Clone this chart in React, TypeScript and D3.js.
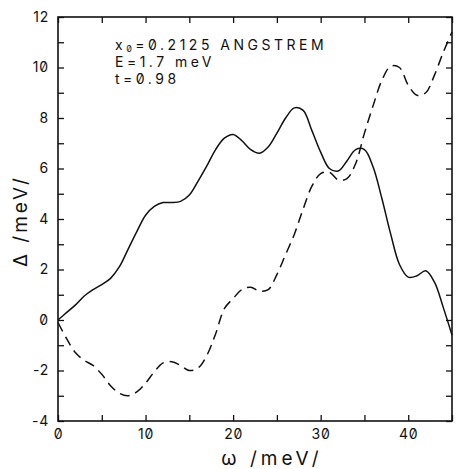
import React, { useRef, useEffect } from "react";
import * as d3 from "d3";

// omega in meV, sampled every 1 meV
const omega = d3.range(0, 46);

// solid curve: Delta (meV)
const deltaSolid = [
  0, 0.3, 0.6, 0.95, 1.2, 1.4, 1.65, 2.1, 2.8, 3.5,
  4.15, 4.5, 4.65, 4.65, 4.7, 4.95, 5.5, 6.1, 6.75, 7.2,
  7.35, 7.1, 6.75, 6.6, 6.85, 7.4, 8.0, 8.4, 8.3, 7.5,
  6.65, 6.0, 5.9, 6.3, 6.75, 6.75, 6.05, 4.8, 3.4, 2.2,
  1.7, 1.75, 1.95, 1.5, 0.5, -0.6,
];

// dashed curve
const deltaDashed = [
  -0.1, -0.75, -1.3, -1.6, -1.8, -2.15, -2.6, -2.9, -3.0, -2.85,
  -2.5, -2.05, -1.7, -1.65, -1.8, -2.0, -1.9, -1.4, -0.55, 0.45,
  0.85, 1.2, 1.3, 1.15, 1.2, 1.8, 2.6, 3.4, 4.4, 5.3,
  5.8, 5.85, 5.55, 5.6, 6.2, 7.4, 8.5, 9.5, 10.05, 10.0,
  9.3, 8.9, 9.0, 9.7, 10.6, 11.4,
];

const xTicks = d3.range(0, 46, 5);
const yTicks = d3.range(-4, 13, 1);
const infoLines = ["E=1.7 meV", "t=0.98"];

const FONT = "Inter, 'DejaVu Sans', sans-serif";

const App = () => {
  const ref = useRef(null);

  useEffect(() => {
    const margin = { top: 17, right: 9, bottom: 48, left: 58 };
    const W = 461, H = 469;
    const width = W - margin.left - margin.right;
    const height = H - margin.top - margin.bottom;

    const svg = d3.select(ref.current);
    svg.selectAll("*").remove();

    const g = svg.append("g").attr("transform", `translate(${margin.left},${margin.top})`);

    const x = d3.scaleLinear().domain([0, 45]).range([0, width]);
    const y = d3.scaleLinear().domain([-4, 12]).range([height, 0]);

    const styleAxis = (sel) => {
      sel.select(".domain").remove();
      sel.selectAll("line").attr("stroke", "#111").attr("stroke-width", 1.3);
      sel.selectAll("text")
        .attr("font-family", FONT)
        .attr("font-size", 14)
        .attr("letter-spacing", 0.8)
        .style("font-feature-settings", '"zero"')
        .attr("fill", "#111");
    };

    g.append("g").attr("transform", `translate(0,${height})`)
      .call(d3.axisBottom(x).tickValues(xTicks).tickSizeInner(-6).tickSizeOuter(0).tickPadding(8)
        .tickFormat(d => (d % 10 === 0 ? d : "")))
      .call(styleAxis);
    g.append("g")
      .call(d3.axisTop(x).tickValues(xTicks).tickSizeInner(-6).tickSizeOuter(0).tickFormat(() => ""))
      .call(styleAxis);
    g.append("g")
      .call(d3.axisLeft(y).tickValues(yTicks).tickSizeInner(-6).tickSizeOuter(0).tickPadding(9)
        .tickFormat(d => (d % 2 === 0 ? d : "")))
      .call(styleAxis);
    g.append("g").attr("transform", `translate(${width},0)`)
      .call(d3.axisRight(y).tickValues(yTicks).tickSizeInner(-6).tickSizeOuter(0).tickFormat(() => ""))
      .call(styleAxis);

    g.append("rect")
      .attr("width", width).attr("height", height)
      .attr("fill", "none").attr("stroke", "#111").attr("stroke-width", 1.6);

    const line = d3.line().x(d => x(d[0])).y(d => y(d[1])).curve(d3.curveCatmullRom);

    g.append("path")
      .datum(omega.map((w, i) => [w, deltaSolid[i]]))
      .attr("fill", "none").attr("stroke", "#111").attr("stroke-width", 1.5)
      .attr("d", line);

    g.append("path")
      .datum(omega.map((w, i) => [w, deltaDashed[i]]))
      .attr("fill", "none").attr("stroke", "#111").attr("stroke-width", 1.5)
      .attr("stroke-dasharray", "10,6")
      .attr("d", line);

    // annotation block
    const info = g.append("text")
      .attr("x", 57).attr("y", 33)
      .attr("font-family", FONT).attr("font-size", 14)
      .attr("letter-spacing", 3.5)
      .style("font-feature-settings", '"zero"')
      .attr("fill", "#111");
    info.append("tspan").text("x");
    info.append("tspan").attr("font-size", 9).attr("dy", 2).text("0");
    info.append("tspan").attr("dy", -2).text("=0.2125 ANGSTREM");
    infoLines.forEach((t, i) => {
      g.append("text")
        .attr("x", 57).attr("y", 50 + i * 17)
        .attr("font-family", FONT).attr("font-size", 14)
        .attr("letter-spacing", 3.5)
        .style("font-feature-settings", '"zero"')
        .attr("fill", "#111")
        .text(t);
    });

    // axis titles
    svg.append("text")
      .attr("x", 272).attr("y", 465)
      .attr("text-anchor", "middle")
      .attr("font-family", FONT).attr("font-size", 19)
      .attr("letter-spacing", 4)
      .attr("fill", "#111")
      .text("ω  /meV/");

    svg.append("text")
      .attr("transform", "translate(27,221) rotate(-90)")
      .attr("text-anchor", "middle")
      .attr("font-family", FONT).attr("font-size", 19)
      .attr("letter-spacing", 3)
      .attr("fill", "#111")
      .text("Δ  /meV/");
  }, []);

  return (
    <svg
      ref={ref}
      width={461}
      height={469}
      style={{ position: "absolute", left: 0, top: 0, background: "#fff" }}
    ></svg>
  );
};

export default App;
